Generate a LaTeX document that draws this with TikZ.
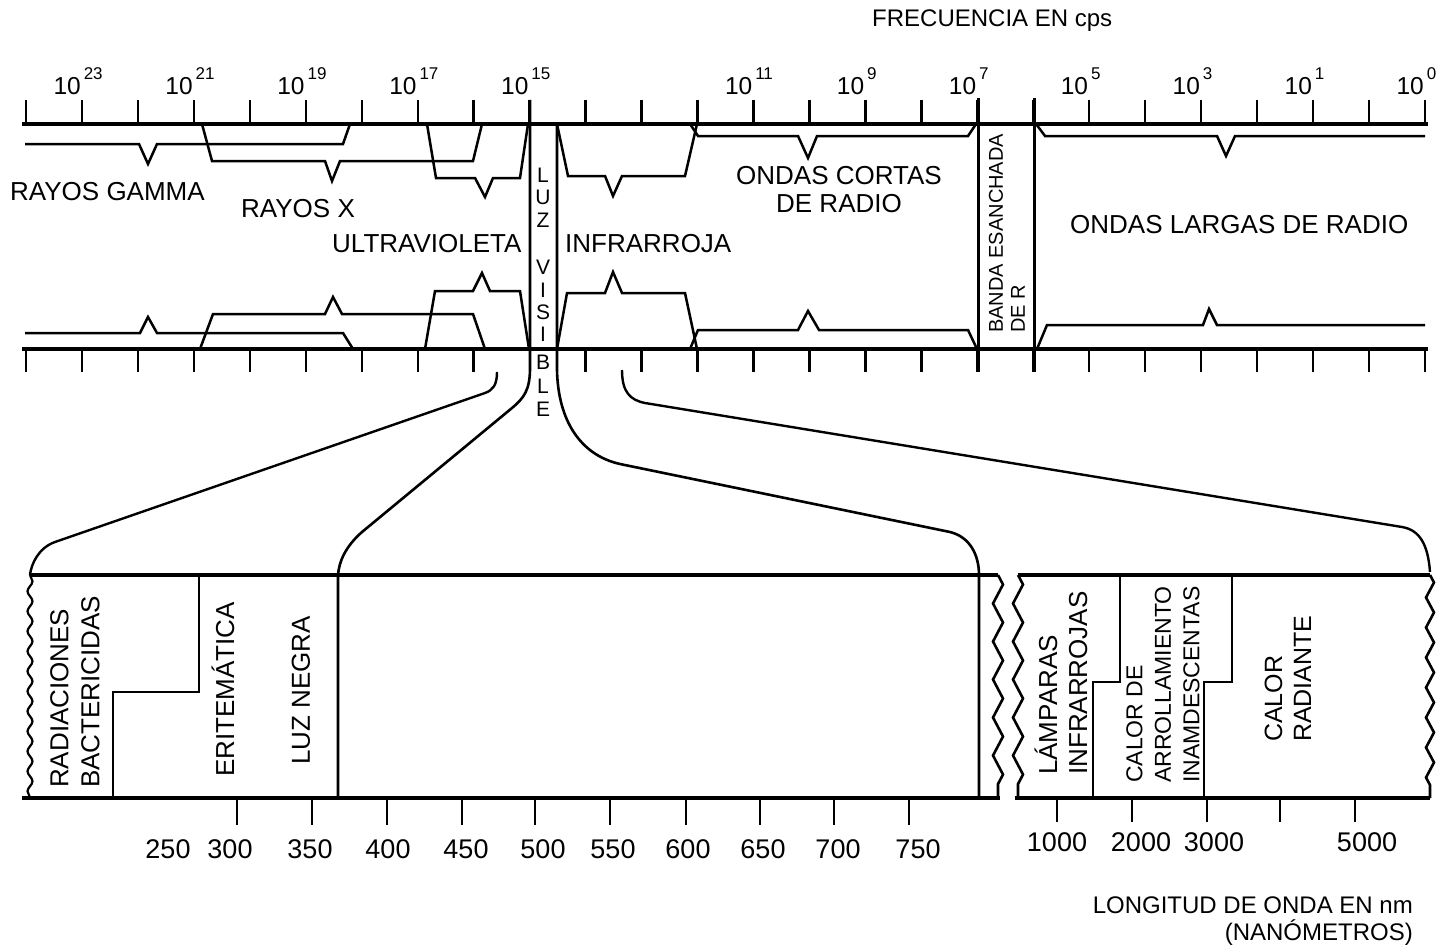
\documentclass[tikz,border=0pt]{standalone}
\usepackage{fontspec}
\setmainfont{Liberation Sans}
\usetikzlibrary{decorations.pathmorphing}
\newcommand{\expo}[1]{\rlap{\kern3pt\raisebox{15pt}{\fontsize{17}{17}\selectfont #1}}}
\begin{document}
\begin{tikzpicture}[x=1pt,y=-1pt,
  axis/.style={line width=3.6pt},
  bandline/.style={line width=2.5pt, line join=miter, miter limit=6},
  tk/.style={line width=2.4pt},
  lab/.style={font=\fontsize{26}{30}\selectfont, inner sep=0pt},
  rlab/.style={lab, rotate=90, anchor=west, align=left},
  num/.style={font=\fontsize{27}{30}\selectfont, inner sep=0pt, anchor=base},
  pwr/.style={font=\fontsize{24.5}{28}\selectfont, inner sep=0pt, anchor=base east},
  brk/.style={line width=2.6pt, decorate, decoration={zigzag, segment length=38pt, amplitude=5pt}},
  wavyL/.style={line width=2.2pt, decorate, decoration={snake, segment length=20pt, amplitude=2.5pt}},
  wavyR/.style={line width=2.6pt, decorate, decoration={zigzag, segment length=30pt, amplitude=4pt}}
]
\useasboundingbox (0,0) rectangle (1439,947);

% ---------- frequency scale ----------
\node[font=\fontsize{24}{28}\selectfont, inner sep=0pt, anchor=base west] (freq) at (872,27) {FRECUENCIA EN cps};
\coordinate (TL) at (22,124); \coordinate (TR) at (1428,124);
\coordinate (BL) at (22,349); \coordinate (BR) at (1428,349);
\draw[axis] (TL) -- (TR);
\draw[axis] (BL) -- (BR);
\foreach \k in {0,...,25} \draw[tk] ({26+55.96*\k},100) -- ({26+55.96*\k},124);
\foreach \k in {0,...,8,10,11,...,25} \draw[tk] ({26+55.96*\k},349) -- ({26+55.96*\k},372);
\foreach \k/\e in {1/23,3/21,5/19,7/17,9/15,13/11,15/9,17/7,19/5,21/3,23/1,25/0}
  \node[pwr] (p\e) at ({25+55.96*\k},95) {10\expo{\e}};

% ---------- band lines ----------
\draw[line width=3pt] (978,98) -- (978,372);
\draw[line width=3pt] (1034,98) -- (1034,372);

% gamma
\draw[bandline] (25,144) -- (139,144) -- (148,164) -- (157,144) -- (343,144) -- (350,124);
\draw[bandline] (25,333) -- (140,333) -- (148,317) -- (157,333) -- (343,333) -- (353,349);
% X
\draw[bandline] (202,124) -- (212,161) -- (325,161) -- (332,181) -- (340,161) -- (473,161) -- (482,124);
\draw[bandline] (200,349) -- (213,314) -- (325,314) -- (333,297) -- (342,314) -- (473,314) -- (485,349);
% UV
\draw[bandline] (427,124) -- (436,178) -- (475,178) -- (485,197) -- (493,178) -- (520,178) -- (528,124);
\draw[bandline] (425,349) -- (435,291) -- (473,291) -- (482,273) -- (490,291) -- (520,291) -- (529,349);
% IR
\draw[bandline] (557,124) -- (568,176) -- (605,176) -- (613,196) -- (622,176) -- (685,176) -- (697,124);
\draw[bandline] (557,349) -- (567,293) -- (605,293) -- (613,272) -- (622,293) -- (685,293) -- (697,349);
% short radio
\draw[bandline] (690,124) -- (698,136) -- (798,136) -- (808,158) -- (817,136) -- (968,136) -- (976,124);
\draw[bandline] (690,349) -- (698,330) -- (798,330) -- (808,311) -- (819,330) -- (968,330) -- (977,349);
% long radio
\draw[bandline] (1036,124) -- (1045,136) -- (1217,136) -- (1226,156) -- (1235,136) -- (1425,136);
\draw[bandline] (1037,349) -- (1047,325) -- (1203,325) -- (1209,309) -- (1217,325) -- (1425,325);

% ---------- region labels ----------
\node[lab, anchor=base west] (gamma) at (10,200) {RAYOS GAMMA};
\node[lab, anchor=base west] (xray) at (241,217) {RAYOS X};
\node[lab, anchor=base west] (uv) at (332,252) {ULTRAVIOLETA};
\node[lab, anchor=base west] (ir) at (565,252) {INFRARROJA};
\node[lab, align=center, font=\fontsize{26}{28}\selectfont] (short) at (839,190) {ONDAS CORTAS\\DE RADIO};
\node[lab, anchor=base west] (long) at (1070,233) {ONDAS LARGAS DE RADIO};
\node[rlab, font=\fontsize{20}{22}\selectfont] (banda) at (1007,333) {BANDA ESANCHADA\\DE R};
\foreach \l/\y [count=\i] in {L/175,U/197,Z/220,V/267,I/290,S/312,I/334,B/362,L/386,E/409}
  \node[font=\fontsize{21}{22}\selectfont, inner sep=0pt] (vis\i) at (543,\y) {\l};

% ---------- visible light and connecting curves ----------
\coordinate (vl0) at (530,100); \coordinate (vl1) at (338,798);
\coordinate (vr0) at (557,124); \coordinate (vr1) at (979,798);
\coordinate (uv0) at (497,372); \coordinate (uv1) at (30,575);
\coordinate (ir0) at (622,370); \coordinate (ir1) at (1430,572);
\draw[line width=2.6pt] (vl0) -- (530,368) .. controls (530,390) and (524,398) .. (512,408) -- (362,532) .. controls (345,547) and (339,562) .. (338,575) -- (vl1);
\draw[line width=2.6pt] (vr0) -- (557,370) .. controls (558,420) and (580,455) .. (620,464) -- (950,532) .. controls (970,537) and (979,555) .. (979,575) -- (vr1);
\draw[line width=2.4pt] (uv0) .. controls (497,385) and (493,390) .. (485,393) -- (55,542) .. controls (38,548) and (31,565) .. (uv1);
\draw[line width=2.4pt] (ir0) .. controls (622,392) and (630,400) .. (645,403) -- (1402,527) .. controls (1420,530) and (1428,545) .. (ir1);

% ---------- lower boxes ----------
\draw[axis] (30,575) -- (998,575);
\draw[axis] (22,798) -- (1000,798);
\draw[wavyL] (30,575) -- (30,798);
\draw[brk] (998,575) -- (998,798);
\draw[brk] (1018,575) -- (1018,798);
\draw[axis] (1018,575) -- (1430,575);
\draw[axis] (1015,798) -- (1430,798);
\draw[wavyR] (1430,575) -- (1430,798);

\draw[bandline] (199,575) -- (199,692) -- (113,692) -- (113,798);
\draw[bandline] (1120,575) -- (1120,682) -- (1093,682) -- (1093,798);
\draw[bandline] (1232,575) -- (1232,682) -- (1204,682) -- (1204,798);

\node[rlab, font=\fontsize{26}{31}\selectfont] (bact) at (75,788) {RADIACIONES\\BACTERICIDAS};
\node[rlab] (erit) at (223,777) {ERITEMÁTICA};
\node[rlab] (negra) at (301,765) {LUZ NEGRA};
\node[rlab] (lamp) at (1061,775) {LÁMPARAS\\INFRARROJAS};
\node[rlab, font=\fontsize{23}{28.5}\selectfont] (arrol) at (1163,783) {CALOR DE\\ARROLLAMIENTO\\INAMDESCENTAS};
\node[rlab, font=\fontsize{25}{29}\selectfont] (rad) at (1288,742) {CALOR\\RADIANTE};

% ---------- wavelength scale ----------
\foreach \x in {237,312,387,462,535,610,686,760,834,909} \draw[tk] (\x,798) -- (\x,825);
\foreach \x in {1057,1132,1207,1280,1355} \draw[tk] (\x,798) -- (\x,822);
\foreach \x/\t in {168/250,230/300,310/350,388/400,466/450,543/500,613/550,688/600,763/650,838/700,918/750}
  \node[num] (w\t) at (\x,858) {\t};
\foreach \x/\t in {1057/1000,1141/2000,1214/3000,1367/5000}
  \node[num] (w\t) at (\x,851) {\t};
\node[font=\fontsize{24}{27}\selectfont, inner sep=0pt, align=right, anchor=north east] (lon) at (1413,897) {LONGITUD DE ONDA EN nm\\(NANÓMETROS)};
\end{tikzpicture}
\end{document}
